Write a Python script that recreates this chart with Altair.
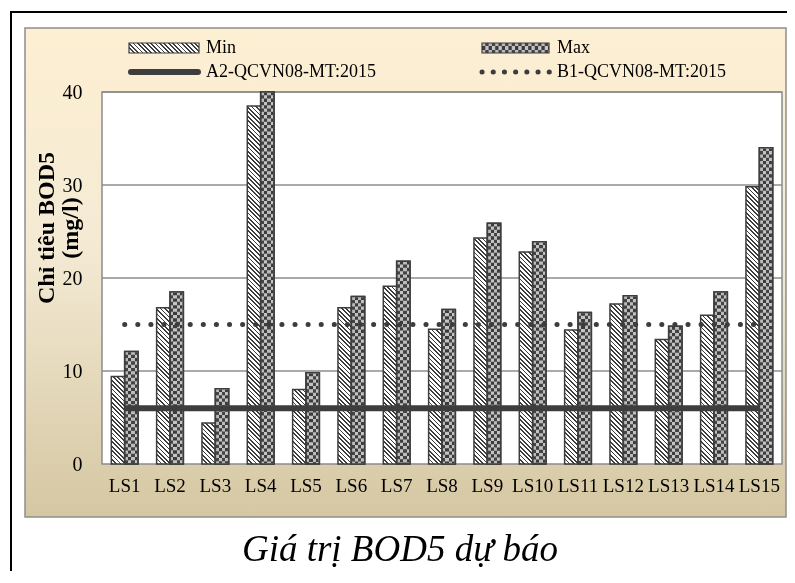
import altair as alt

# ---------------- data ----------------
stations = ["LS1", "LS2", "LS3", "LS4", "LS5", "LS6", "LS7", "LS8",
            "LS9", "LS10", "LS11", "LS12", "LS13", "LS14", "LS15"]
bod_min = [9.4, 16.8, 4.4, 38.5, 8.0, 16.8, 19.1, 14.5, 24.3, 22.8, 14.4, 17.2, 13.4, 16.0, 29.8]
bod_max = [12.1, 18.5, 8.1, 41.0, 9.8, 18.0, 21.8, 16.6, 25.9, 23.9, 16.3, 18.1, 14.8, 18.5, 34.0]
a2_limit = [6, 6, 6, 6, 6, 6, 6, 6, 6, 6, 6, 6, 6, 6, 6]
b1_limit = [15, 15, 15, 15, 15, 15, 15, 15, 15, 15, 15, 15, 15, 15, 15]
y_ticks = [0, 10, 20, 30, 40]
series_names = ["Min", "Max"]
limit_names = ["A2-QCVN08-MT:2015", "B1-QCVN08-MT:2015"]
y_title = ["Chỉ tiêu BOD5", "(mg/l)"]
caption = "Giá trị BOD5 dự báo"

# ---------------- layout / style ----------------
W, H = 680, 372
Y_MAX = 40
PAD_INNER, PAD_OUTER = 0.41, 0.205
INK = "#3d3d3d"
GRID = "#8c8c8c"
SERIF = "Liberation Serif"

step = W / (len(stations) - PAD_INNER + 2 * PAD_OUTER)
bar_w = step * (1 - PAD_INNER) / 2


def hatch(w, h, period=4.4, frac=0.4, ink=INK, paper="#ffffff"):
    """Diagonal '\\' hatch as a linear gradient in bounding-box units."""
    w = max(w, 0.5)
    h = max(h, 0.5)
    span = w + h
    s = span / (w * w + h * h)
    stops = []
    k = 0
    while k * period < span:
        a = k * period / span
        b = min((k * period + frac * period) / span, 1.0)
        stops += [{"offset": a, "color": paper}, {"offset": a, "color": ink},
                  {"offset": b, "color": ink}, {"offset": b, "color": paper}]
        k += 1
    return {"gradient": "linear", "x1": 0, "y1": 1, "x2": s * w, "y2": 1 - s * h,
            "stops": stops}


DARK, LIGHT = "#444444", "#c4c4c4"


def columns(n, horizontal=True):
    stops = []
    for i in range(n):
        c = DARK if i % 2 == 0 else LIGHT
        stops += [{"offset": i / n, "color": c}, {"offset": (i + 1) / n, "color": c}]
    g = {"gradient": "linear", "x1": 0, "y1": 0, "x2": 1 if horizontal else 0,
         "y2": 0 if horizontal else 1, "stops": stops}
    return g


def px_h(v):
    return min(v, Y_MAX) / Y_MAX * H


min_records = [{"station": s, "series": series_names[0], "value": v,
                "grad": hatch(bar_w, px_h(v))} for s, v in zip(stations, bod_min)]
max_records = [{"station": s, "series": series_names[1], "value": v}
               for s, v in zip(stations, bod_max)]
a2_records = [{"station": s, "value": v} for s, v in zip(stations, a2_limit)]
b1_records = [{"station": s, "value": v} for s, v in zip(stations, b1_limit)]
grid_records = [{"value": t} for t in y_ticks[1:]]
one = alt.Data(values=[{"k": 0}])

# page -> plot coordinates (plot origin at page (102, 92))
OX, OY = 102, 92


def px(x):
    return x - OX


def py(y):
    return y - OY


xscale = alt.Scale(domain=stations, paddingInner=PAD_INNER, paddingOuter=PAD_OUTER)
yscale = alt.Scale(domain=[0, Y_MAX], clamp=True, nice=False)
oscale = alt.Scale(domain=series_names)

xaxis = alt.Axis(ticks=False, domain=False, grid=False, labelAngle=0, labelFont=SERIF,
                 labelFontSize=19, labelColor="black", labelPadding=12,
                 labelOverlap=False, labelBound=False, title=None, zindex=1)
yaxis = alt.Axis(values=y_ticks, ticks=False, domain=False, grid=False, labelFont=SERIF,
                 labelFontSize=20, labelColor="black", labelPadding=20, title=None,
                 labelOverlap=False, zindex=1)

X = alt.X("station:N", scale=xscale, axis=xaxis, sort=stations)
XO = alt.XOffset("series:N", scale=oscale, sort=series_names)
Y = alt.Y("value:Q", scale=yscale, axis=yaxis)

frame = alt.Chart(one).mark_rect(filled=False, color="black", strokeWidth=2).encode(
    x=alt.value(px(11)), x2=alt.value(2000), y=alt.value(py(12)), y2=alt.value(2000))

beige = alt.Chart(one).mark_rect(
    fill={"gradient": "linear", "x1": 0, "y1": 0, "x2": 0, "y2": 1,
          "stops": [{"offset": 0, "color": "#fdefd2"},
                    {"offset": 0.45, "color": "#f4ead4"},
                    {"offset": 1, "color": "#d5c7a2"}]},
    stroke="#8f8f8f", strokeWidth=1.5).encode(
    x=alt.value(px(25)), x2=alt.value(px(786)), y=alt.value(py(28)), y2=alt.value(py(517)))

plotbg = alt.Chart(one).mark_rect(fill="white", stroke=GRID, strokeWidth=1.5).encode(
    x=alt.value(0), x2=alt.value(W), y=alt.value(0), y2=alt.value(H))

grid = alt.Chart(alt.Data(values=grid_records)).mark_rule(color=GRID, strokeWidth=1.5).encode(
    y=Y, x=alt.value(0), x2=alt.value(W))

min_bars = alt.Chart(alt.Data(values=min_records)).mark_bar(
    stroke=INK, strokeWidth=1.5).encode(
    x=X, xOffset=XO, y=Y, fill=alt.Fill("grad:N", scale=None, legend=None))

max_bars = alt.Chart(alt.Data(values=max_records)).mark_bar(
    fill=columns(4), stroke=INK, strokeWidth=1.5).encode(x=X, xOffset=XO, y=Y)

max_rows = alt.Chart(alt.Data(values=max_records)).mark_rule(
    color="white", strokeWidth=bar_w - 1.5, strokeDash=[3.3, 3.3], blend="difference",
    strokeCap="butt").encode(x=X, xOffset=XO, y=Y, y2=alt.datum(0))

max_outline = alt.Chart(alt.Data(values=max_records)).mark_bar(
    fill="white", fillOpacity=0, stroke=INK, strokeWidth=1.5).encode(x=X, xOffset=XO, y=Y)

a2_line = alt.Chart(alt.Data(values=a2_records)).mark_line(
    color=INK, strokeWidth=6, strokeCap="butt").encode(x=X, y=Y)

b1_line = alt.Chart(alt.Data(values=b1_records)).mark_line(
    color=INK, strokeWidth=5, strokeDash=[0.1, 13], strokeCap="round").encode(x=X, y=Y)

# ---------------- legend ----------------
LX1, LX2 = 129, 482
LR1, LR2 = 48, 72
leg_min = alt.Chart(one).mark_rect(fill=hatch(70, 10), stroke=INK, strokeWidth=1.2).encode(
    x=alt.value(px(LX1)), x2=alt.value(px(LX1 + 70)),
    y=alt.value(py(LR1 - 5)), y2=alt.value(py(LR1 + 5)))
leg_max = alt.Chart(one).mark_rect(fill=columns(3, horizontal=False)).encode(
    x=alt.value(px(LX2)), x2=alt.value(px(LX2 + 67)),
    y=alt.value(py(LR1 - 5)), y2=alt.value(py(LR1 + 5)))
leg_max_rows = alt.Chart(one).mark_rule(
    color="white", strokeWidth=10, strokeDash=[3.3, 3.3], blend="difference",
    strokeCap="butt").encode(
    x=alt.value(px(LX2)), x2=alt.value(px(LX2 + 67)), y=alt.value(py(LR1)))
leg_max_out = alt.Chart(one).mark_rect(filled=False, color=INK, strokeWidth=1.2).encode(
    x=alt.value(px(LX2)), x2=alt.value(px(LX2 + 67)),
    y=alt.value(py(LR1 - 5)), y2=alt.value(py(LR1 + 5)))
leg_a2 = alt.Chart(one).mark_rule(color=INK, strokeWidth=6, strokeCap="round").encode(
    x=alt.value(px(LX1 + 2)), x2=alt.value(px(LX1 + 69)), y=alt.value(py(LR2)))
leg_b1 = alt.Chart(one).mark_rule(color=INK, strokeWidth=5, strokeDash=[0.1, 11.1],
                                  strokeCap="round").encode(
    x=alt.value(px(LX2)), x2=alt.value(px(LX2 + 68)), y=alt.value(py(LR2)))


def label(txt, x, y):
    return alt.Chart(one).mark_text(align="left", baseline="middle", font=SERIF,
                                    fontSize=18, color="black").encode(
        x=alt.value(px(x)), y=alt.value(py(y)), text=alt.value(txt))


legend_texts = [label(series_names[0], 206, LR1), label(series_names[1], 557, LR1),
                label(limit_names[0], 206, LR2), label(limit_names[1], 557, LR2)]

# ---------------- titles ----------------
ytitle_layers = [
    alt.Chart(one).mark_text(angle=270, align="center", baseline="middle", font=SERIF,
                             fontSize=24, fontWeight="bold", color="black").encode(
        x=alt.value(px(xx)), y=alt.value(py(228)), text=alt.value(t))
    for t, xx in zip(y_title, [47, 71])]

caption_layer = alt.Chart(one).mark_text(align="center", baseline="alphabetic", font=SERIF,
                                         fontSize=37, fontStyle="italic",
                                         color="black").encode(
    x=alt.value(px(400)), y=alt.value(py(561)), text=alt.value(caption))

chart = alt.layer(
    frame, beige, plotbg, grid, min_bars, max_bars, max_rows, max_outline, a2_line, b1_line,
    leg_min, leg_max, leg_max_rows, leg_max_out, leg_a2, leg_b1, *legend_texts,
    *ytitle_layers, caption_layer
).properties(
    width=W, height=H,
    autosize=alt.AutoSizeParams(type="none"),
    padding={"left": 94, "top": 84, "right": 5, "bottom": 107},
    background="white",
).configure_view(stroke=None)

chart.save("out.html", embed_options={"renderer": "svg", "actions": False})
